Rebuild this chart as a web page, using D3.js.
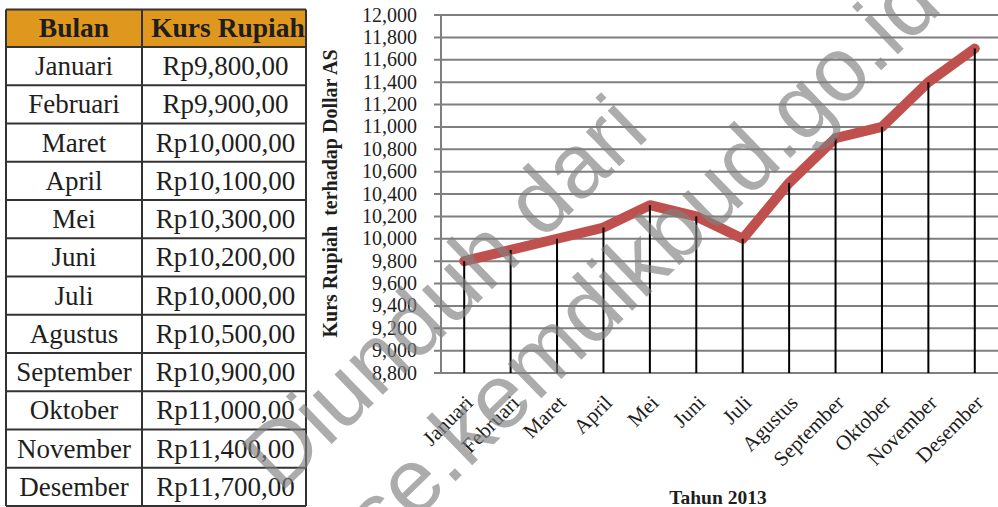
<!DOCTYPE html>
<html>
<head>
<meta charset="utf-8">
<script src="https://cdn.jsdelivr.net/npm/d3@7"></script>
<style>
  html, body { margin: 0; padding: 0; background: #fff; }
  svg { display: block; }
</style>
</head>
<body>
<svg id="chart" width="998" height="507"></svg>
<script>
// Monthly rupiah exchange rate against the US dollar, 2013
const months = ["Januari", "Februari", "Maret", "April", "Mei", "Juni", "Juli",
  "Agustus", "September", "Oktober", "November", "Desember"];
const rates = [9800, 9900, 10000, 10100, 10300, 10200, 10000, 10500, 10900, 11000, 11400, 11700];
const yTicks = [8800, 9000, 9200, 9400, 9600, 9800, 10000, 10200, 10400, 10600,
  10800, 11000, 11200, 11400, 11600, 11800, 12000];
const tableHeaders = ["Bulan", "Kurs Rupiah"];
const yTitle = "Kurs Rupiah  terhadap Dollar AS";
const xTitle = "Tahun 2013";
const watermarkLines = ["Diunduh dari", "bse.kemdikbud.go.id"];

const svg = d3.select("#chart");
const serif = "'Liberation Serif', 'Times New Roman', serif";
const fmtTick = d3.format(",");
const fmtRp = v => "Rp" + d3.format(",")(v) + ",00";

// ---- Table ----
const tbl = { x0: 6, x1: 142, x2: 306, top: 9.5, headH: 37.5, rowH: 38.25 };
const gT = svg.append("g");
gT.append("rect").attr("x", tbl.x0).attr("y", tbl.top)
  .attr("width", tbl.x2 - tbl.x0).attr("height", tbl.headH)
  .attr("fill", "#E0971D");
const colCenters = [(tbl.x0 + tbl.x1) / 2, (tbl.x1 + tbl.x2) / 2];
tableHeaders.forEach((h, i) => {
  gT.append("text").attr("x", colCenters[i] + (i ? 4 : 0)).attr("y", tbl.top + tbl.headH / 2 + 9)
    .attr("text-anchor", "middle").attr("font-family", serif)
    .attr("font-size", 27.5).attr("font-weight", "bold").attr("fill", "#1e1e1e")
    .text(h);
});
const rowY = i => tbl.top + tbl.headH + i * tbl.rowH;
months.forEach((m, i) => {
  const cy = rowY(i) + tbl.rowH / 2 + 9;
  gT.append("text").attr("x", colCenters[0]).attr("y", cy)
    .attr("text-anchor", "middle").attr("font-family", serif)
    .attr("font-size", 27).attr("fill", "#1e1e1e").text(m);
  gT.append("text").attr("x", colCenters[1] + 1.5).attr("y", cy)
    .attr("text-anchor", "middle").attr("font-family", serif)
    .attr("font-size", 27).attr("fill", "#1e1e1e").text(fmtRp(rates[i]));
});
const tblBottom = rowY(months.length);
// grid lines of the table
const hLines = [tbl.top, tbl.top + tbl.headH].concat(months.map((_, i) => rowY(i + 1)));
gT.selectAll("line.h").data(hLines).enter().append("line")
  .attr("x1", tbl.x0).attr("x2", tbl.x2).attr("y1", d => d).attr("y2", d => d)
  .attr("stroke", "#333").attr("stroke-width", 2);
[tbl.x0, tbl.x1, tbl.x2].forEach(x => {
  gT.append("line").attr("x1", x).attr("x2", x).attr("y1", tbl.top).attr("y2", tblBottom)
    .attr("stroke", "#333").attr("stroke-width", 2);
});

// ---- Line chart ----
const plot = { left: 441, right: 998, top: 15, bottom: 373 };
const x = d3.scalePoint().domain(months).range([plot.left, plot.right]).padding(0.5);
const y = d3.scaleLinear().domain([8800, 12000]).range([plot.bottom, plot.top]);
const gC = svg.append("g");
const gridColor = "#7f7f7f";

// horizontal gridlines with short ticks left of the axis
gC.selectAll("line.grid").data(yTicks).enter().append("line")
  .attr("x1", plot.left - 7).attr("x2", plot.right)
  .attr("y1", d => y(d)).attr("y2", d => y(d))
  .attr("stroke", gridColor).attr("stroke-width", 2);
gC.append("line").attr("x1", plot.left).attr("x2", plot.left)
  .attr("y1", plot.top).attr("y2", plot.bottom)
  .attr("stroke", gridColor).attr("stroke-width", 2);

// y tick labels
gC.selectAll("text.yt").data(yTicks).enter().append("text")
  .attr("x", 417).attr("y", d => y(d) + 6.5)
  .attr("text-anchor", "end").attr("font-family", serif)
  .attr("font-size", 20).attr("fill", "#1e1e1e").text(d => fmtTick(d));

// red line
const line = d3.line().x((d, i) => x(months[i])).y(d => y(d));
gC.append("path").datum(rates).attr("d", line)
  .attr("fill", "none").attr("stroke", "#C0504D").attr("stroke-width", 10)
  .attr("stroke-linecap", "round").attr("stroke-linejoin", "round");

// drop lines
gC.selectAll("line.drop").data(rates).enter().append("line")
  .attr("x1", (d, i) => x(months[i])).attr("x2", (d, i) => x(months[i]))
  .attr("y1", d => y(d)).attr("y2", plot.bottom)
  .attr("stroke", "#000").attr("stroke-width", 2);

// x labels
gC.selectAll("text.xl").data(months).enter().append("text")
  .attr("transform", d => `translate(${x(d) + 10},${plot.bottom + 31}) rotate(-45)`)
  .attr("text-anchor", "end").attr("font-family", serif)
  .attr("font-size", 21).attr("fill", "#1e1e1e").text(d => d);

// axis titles
svg.append("text")
  .attr("transform", `translate(337,193.5) rotate(-90)`)
  .attr("text-anchor", "middle").attr("font-family", serif)
  .attr("font-size", 20).attr("font-weight", "bold").attr("fill", "#1e1e1e")
  .style("white-space", "pre").text(yTitle);
svg.append("text").attr("x", 718).attr("y", 504)
  .attr("text-anchor", "middle").attr("font-family", serif)
  .attr("font-size", 19.5).attr("font-weight", "bold").attr("fill", "#1e1e1e")
  .text(xTitle);

// ---- Watermark ----
const wm = svg.append("g").attr("font-family", "'Liberation Sans', Arial, sans-serif")
  .attr("font-size", 91).attr("fill", "#808080").attr("fill-opacity", 0.65)
  .attr("text-anchor", "start");
wm.append("text").attr("transform", "translate(280,494) rotate(-44)").text(watermarkLines[0]);
wm.append("text").attr("transform", "translate(344,589) rotate(-44)").text(watermarkLines[1]);
</script>
</body>
</html>
